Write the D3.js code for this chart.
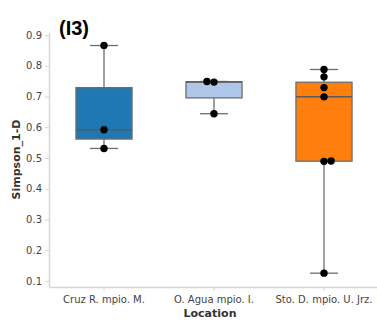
<!DOCTYPE html>
<html>
<head>
<meta charset="utf-8">
<script src="https://cdn.jsdelivr.net/npm/d3@7"></script>
<style>
  html, body { margin: 0; padding: 0; background: #fff; }
  svg { display: block; }
</style>
</head>
<body>
<svg id="chart" width="377" height="321"></svg>
<script>
// Simpson diversity (1 - D) per sampling site
const locations = ["Cruz R. mpio. M.", "O. Agua mpio. I.", "Sto. D. mpio. U. Jrz."];
const cruzValues = [0.531, 0.592, 0.866];
const aguaValues = [0.644, 0.747, 0.749];
const stoValues = [0.125, 0.489, 0.490, 0.699, 0.729, 0.764, 0.788];
const boxColors = ["#1f77b4", "#aec7e8", "#ff7f0e"];
const yTicks = [0.1, 0.2, 0.3, 0.4, 0.5, 0.6, 0.7, 0.8, 0.9];

const groups = [cruzValues, aguaValues, stoValues];

const W = 377, H = 321;
const margin = { left: 49, right: -2, top: 32, bottom: 34 };
const svg = d3.select("#chart");

const x = d3.scaleBand()
  .domain(locations)
  .range([margin.left, W - margin.right])
  .paddingInner(0).paddingOuter(0);

const y = d3.scaleLinear()
  .domain([0.08, 0.91])
  .range([H - margin.bottom, margin.top]);

const axisGrey = "#d6d6d6";
const textGrey = "#444";

// y axis
const yAxis = svg.append("g")
  .attr("transform", `translate(${margin.left},0)`)
  .call(d3.axisLeft(y).tickValues(yTicks).tickFormat(d3.format(".1f")).tickSize(4).tickPadding(3).tickSizeOuter(0));
yAxis.select(".domain").attr("stroke", axisGrey).attr("stroke-width", 1.5);
yAxis.selectAll(".tick line").attr("stroke", axisGrey);
yAxis.selectAll(".tick text")
  .attr("fill", textGrey)
  .style("font-family", "DejaVu Sans")
  .style("font-size", "10px");

// x axis
const xAxis = svg.append("g")
  .attr("transform", `translate(0,${H - margin.bottom})`)
  .call(d3.axisBottom(x).tickSize(4).tickPadding(5).tickSizeOuter(0));
xAxis.select(".domain").attr("stroke", axisGrey).attr("stroke-width", 1.5);
xAxis.selectAll(".tick line").attr("stroke", axisGrey);
xAxis.selectAll(".tick text")
  .attr("fill", textGrey)
  .style("font-family", "DejaVu Sans")
  .style("font-size", "10px");

// box plots
const boxW = x.bandwidth() * 0.51;
const lineGrey = "#6e6e6e";

groups.forEach((vals, i) => {
  const s = vals.slice().sort(d3.ascending);
  const q1 = d3.quantile(s, 0.25), med = d3.quantile(s, 0.5), q3 = d3.quantile(s, 0.75);
  const iqr = q3 - q1;
  const lo = d3.min(s.filter(v => v >= q1 - 1.5 * iqr));
  const hi = d3.max(s.filter(v => v <= q3 + 1.5 * iqr));
  const cx = x(locations[i]) + x.bandwidth() / 2;
  const g = svg.append("g");

  // whiskers
  g.append("line").attr("x1", cx).attr("x2", cx).attr("y1", y(q3)).attr("y2", y(hi))
    .attr("stroke", lineGrey).attr("stroke-width", 1.3);
  g.append("line").attr("x1", cx).attr("x2", cx).attr("y1", y(q1)).attr("y2", y(lo))
    .attr("stroke", lineGrey).attr("stroke-width", 1.3);
  [lo, hi].forEach(v => {
    g.append("line").attr("x1", cx - boxW / 4).attr("x2", cx + boxW / 4)
      .attr("y1", y(v)).attr("y2", y(v))
      .attr("stroke", lineGrey).attr("stroke-width", 1.3);
  });

  // box
  g.append("rect")
    .attr("x", cx - boxW / 2).attr("width", boxW)
    .attr("y", y(q3)).attr("height", y(q1) - y(q3))
    .attr("fill", boxColors[i]).attr("stroke", lineGrey).attr("stroke-width", 1.3);
  // median
  g.append("line").attr("x1", cx - boxW / 2).attr("x2", cx + boxW / 2)
    .attr("y1", y(med)).attr("y2", y(med))
    .attr("stroke", "#5a5a5a").attr("stroke-width", 1.5);
});

// swarm of observations
const dotR = 3.7;
const minDist = 7.1;
let tieToggle = -1;
groups.forEach((vals, i) => {
  const cx = x(locations[i]) + x.bandwidth() / 2;
  const placed = [];
  vals.slice().sort(d3.ascending).forEach(v => {
    const py = y(v);
    const cands = [0];
    placed.forEach(p => {
      const dy = Math.abs(p.y - py);
      if (dy < minDist) {
        const dx = Math.sqrt(minDist * minDist - dy * dy);
        cands.push(p.dx + dx, p.dx - dx);
      }
    });
    const ok = cands.filter(c => placed.every(p => Math.hypot(p.dx - c, p.y - py) >= minDist - 1e-6));
    const best = d3.min(ok, c => Math.abs(c));
    const ties = ok.filter(c => Math.abs(Math.abs(c) - best) < 1e-6);
    let dx = ties[0];
    if (ties.length > 1) {
      dx = tieToggle < 0 ? d3.min(ties) : d3.max(ties);
      tieToggle = -tieToggle;
    }
    placed.push({ dx, y: py });
  });
  svg.append("g").selectAll("circle").data(placed).join("circle")
    .attr("cx", d => cx + d.dx).attr("cy", d => d.y).attr("r", dotR)
    .attr("fill", "#000");
});

// axis titles
svg.append("text")
  .attr("x", x.range()[0] + (W - margin.left) / 2 - 3).attr("y", 317)
  .attr("text-anchor", "middle")
  .style("font-family", "DejaVu Sans").style("font-weight", "bold").style("font-size", "11px")
  .attr("fill", "#333").text("Location");

svg.append("text")
  .attr("transform", `translate(20,${(margin.top + H - margin.bottom) / 2}) rotate(-90)`)
  .attr("text-anchor", "middle")
  .style("font-family", "DejaVu Sans").style("font-weight", "bold").style("font-size", "11px")
  .attr("fill", "#333").text("Simpson_1-D");

// panel label
svg.append("text")
  .attr("x", 59).attr("y", 35)
  .style("font-family", "Liberation Sans").style("font-weight", "bold").style("font-size", "20px")
  .attr("fill", "#000").text("(I3)");
</script>
</body>
</html>
